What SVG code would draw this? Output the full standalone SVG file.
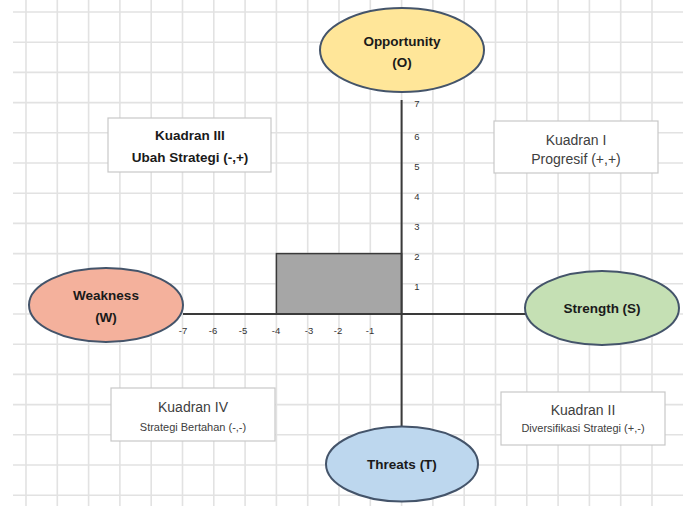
<svg xmlns="http://www.w3.org/2000/svg" width="683" height="506" viewBox="0 0 683 506">
<defs>
<style>
.grid line{stroke:#e2e2e2;stroke-width:1.6}
.ell{stroke:#44546a;stroke-width:2}
.axis{stroke:#3a3a3a;stroke-width:2;fill:none}
.box{fill:#ffffff;stroke:#c8c8c8;stroke-width:1.2}
.lb{font-family:"Liberation Sans",Arial,sans-serif;font-weight:bold;font-size:13.5px;fill:#1a1a1a;text-anchor:middle}
.lr{font-family:"Liberation Sans",Arial,sans-serif;font-size:14px;fill:#404040;text-anchor:middle}
.ls{font-family:"Liberation Sans",Arial,sans-serif;font-size:11px;fill:#404040;text-anchor:middle}
.tk{font-family:"Liberation Sans",Arial,sans-serif;font-size:9.5px;fill:#333333;text-anchor:middle}
</style>
</defs>
<rect x="0" y="0" width="683" height="506" fill="#ffffff"/>
<g class="grid">
<line x1="26" y1="0" x2="26" y2="506"/><line x1="57.3" y1="0" x2="57.3" y2="506"/><line x1="88.6" y1="0" x2="88.6" y2="506"/><line x1="119.9" y1="0" x2="119.9" y2="506"/><line x1="151.2" y1="0" x2="151.2" y2="506"/><line x1="182.5" y1="0" x2="182.5" y2="506"/><line x1="213.8" y1="0" x2="213.8" y2="506"/><line x1="245.1" y1="0" x2="245.1" y2="506"/><line x1="276.4" y1="0" x2="276.4" y2="506"/><line x1="307.7" y1="0" x2="307.7" y2="506"/><line x1="339" y1="0" x2="339" y2="506"/><line x1="370.3" y1="0" x2="370.3" y2="506"/><line x1="432.9" y1="0" x2="432.9" y2="506"/><line x1="464.2" y1="0" x2="464.2" y2="506"/><line x1="495.5" y1="0" x2="495.5" y2="506"/><line x1="526.8" y1="0" x2="526.8" y2="506"/><line x1="558.1" y1="0" x2="558.1" y2="506"/><line x1="589.4" y1="0" x2="589.4" y2="506"/><line x1="620.7" y1="0" x2="620.7" y2="506"/><line x1="652" y1="0" x2="652" y2="506"/><line x1="401.6" y1="0" x2="401.6" y2="506"/>
<line x1="13" y1="12" x2="683" y2="12"/><line x1="13" y1="42.2" x2="683" y2="42.2"/><line x1="13" y1="72.4" x2="683" y2="72.4"/><line x1="13" y1="102.6" x2="683" y2="102.6"/><line x1="13" y1="132.8" x2="683" y2="132.8"/><line x1="13" y1="163" x2="683" y2="163"/><line x1="13" y1="193.2" x2="683" y2="193.2"/><line x1="13" y1="223.4" x2="683" y2="223.4"/><line x1="13" y1="253.6" x2="683" y2="253.6"/><line x1="13" y1="283.8" x2="683" y2="283.8"/><line x1="13" y1="314" x2="683" y2="314"/><line x1="13" y1="344.2" x2="683" y2="344.2"/><line x1="13" y1="374.4" x2="683" y2="374.4"/><line x1="13" y1="404.6" x2="683" y2="404.6"/><line x1="13" y1="434.8" x2="683" y2="434.8"/><line x1="13" y1="465" x2="683" y2="465"/><line x1="13" y1="495.2" x2="683" y2="495.2"/>
</g>
<g id="area">
<rect x="276.4" y="253.6" width="125.2" height="60.4" fill="#a6a6a6" stroke="#3a3a3a" stroke-width="1.5"/>
</g>
<g id="connectors">
<line class="axis" x1="401.6" y1="100" x2="401.6" y2="427"/>
<line class="axis" x1="183" y1="314" x2="526" y2="314"/>
</g>
<g id="ticks">
<text class="tk" x="417" y="106.5">7</text><text class="tk" x="417" y="139.5">6</text><text class="tk" x="417" y="169.5">5</text><text class="tk" x="417" y="199.5">4</text><text class="tk" x="417" y="229.5">3</text><text class="tk" x="417" y="259.5">2</text><text class="tk" x="417" y="290">1</text>
<text class="tk" x="183" y="333.5">-7</text><text class="tk" x="213" y="333.5">-6</text><text class="tk" x="243" y="333.5">-5</text><text class="tk" x="276" y="333.5">-4</text><text class="tk" x="309" y="333.5">-3</text><text class="tk" x="338" y="333.5">-2</text><text class="tk" x="370" y="333.5">-1</text>
</g>
<g id="opportunity">
<ellipse class="ell" cx="402" cy="50" rx="82" ry="42" fill="#ffe699"/>
<text class="lb" x="402" y="46">Opportunity</text>
<text class="lb" x="402" y="67">(O)</text>
</g>
<g id="weakness">
<ellipse class="ell" cx="106" cy="305" rx="77" ry="37" fill="#f4b19c"/>
<text class="lb" x="106" y="300">Weakness</text>
<text class="lb" x="106" y="322">(W)</text>
</g>
<g id="strength">
<ellipse class="ell" cx="602" cy="308" rx="77" ry="37" fill="#c5e0b4"/>
<text class="lb" x="602" y="313">Strength (S)</text>
</g>
<g id="threats">
<ellipse class="ell" cx="402" cy="464" rx="76" ry="37.5" fill="#bdd7ee"/>
<text class="lb" x="402" y="469">Threats (T)</text>
</g>
<g id="kuadran3">
<rect class="box" x="108" y="118" width="163" height="54"/>
<text class="lb" x="190" y="140">Kuadran III</text>
<text class="lb" x="190" y="162">Ubah Strategi (-,+)</text>
</g>
<g id="kuadran1">
<rect class="box" x="494" y="121" width="164" height="52"/>
<text class="lr" x="576" y="145">Kuadran I</text>
<text class="lr" x="576" y="164">Progresif (+,+)</text>
</g>
<g id="kuadran4">
<rect class="box" x="111" y="388" width="164" height="53"/>
<text class="lr" x="193" y="412">Kuadran IV</text>
<text class="ls" x="193" y="431">Strategi Bertahan (-,-)</text>
</g>
<g id="kuadran2">
<rect class="box" x="501" y="392" width="164" height="53"/>
<text class="lr" x="583" y="415">Kuadran II</text>
<text class="ls" x="583" y="432">Diversifikasi Strategi (+,-)</text>
</g>
</svg>
